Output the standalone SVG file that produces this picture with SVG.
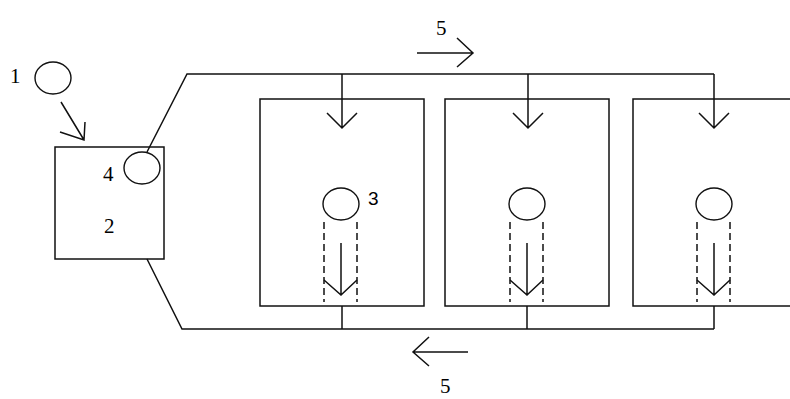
<svg xmlns="http://www.w3.org/2000/svg" width="790" height="399" viewBox="0 0 790 399">
<style>
.s{fill:none;stroke:#111;stroke-width:1.5}
.c{fill:none;stroke:#111;stroke-width:1.4}
.d{fill:none;stroke:#111;stroke-width:1.5;stroke-dasharray:7 4}
.t{font-family:"Liberation Serif",serif;font-size:21px;fill:#000}
</style>
<rect width="790" height="399" fill="#fff"/>
<g id="n1">
<ellipse class="c" cx="53" cy="78" rx="18" ry="16"/>
<text class="t" x="10" y="83">1</text>
</g>
<g id="n2">
<rect class="s" x="55" y="147" width="109" height="112"/>
<text class="t" x="104" y="233">2</text>
</g>
<g id="n4">
<ellipse class="c" cx="142" cy="168" rx="18" ry="16"/>
<text class="t" x="103" y="181">4</text>
</g>
<g id="chamberA">
<rect class="s" x="260" y="99" width="164" height="207"/>
<ellipse class="c" cx="341" cy="204" rx="18" ry="16"/>
<path class="d" d="M324 222V302M357 222V302"/>
<text class="t" x="368" y="205" style="font-family:'Liberation Sans',sans-serif;font-size:19px">3</text>
</g>
<g id="chamberB">
<rect class="s" x="445" y="99" width="164" height="207"/>
<ellipse class="c" cx="527" cy="204" rx="18" ry="16"/>
<path class="d" d="M510 222V302M543 222V302"/>
</g>
<g id="chamberC">
<rect class="s" x="633" y="99" width="170" height="207"/>
<ellipse class="c" cx="714" cy="204" rx="18" ry="16"/>
<path class="d" d="M697 222V302M730 222V302"/>
</g>
<g id="connectors">
<path class="s" d="M61 102L84 140M60 132L84 140L85 122"/>
<path class="s" d="M147 152L187 74H714"/>
<path class="s" d="M147 259L182 329H714"/>
<path class="s" d="M342 74V128M327 113L342 128L357 113"/>
<path class="s" d="M528 74V128M513 113L528 128L543 113"/>
<path class="s" d="M714 74V128M699 113L714 128L729 113"/>
<path class="s" d="M341 243V295M324 280L341 295L357 280"/>
<path class="s" d="M527 243V295M510 280L527 295L543 280"/>
<path class="s" d="M714 243V295M697 280L714 295L730 280"/>
<path class="s" d="M342 306V329M527 306V329M714 306V329"/>
<path class="s" d="M417 53H473M457 38L473 53L457 67"/>
<path class="s" d="M468 352H413M429 337L413 352L429 366"/>
</g>
<g id="labels5">
<text class="t" x="436" y="35">5</text>
<text class="t" x="440" y="393">5</text>
</g>
</svg>
